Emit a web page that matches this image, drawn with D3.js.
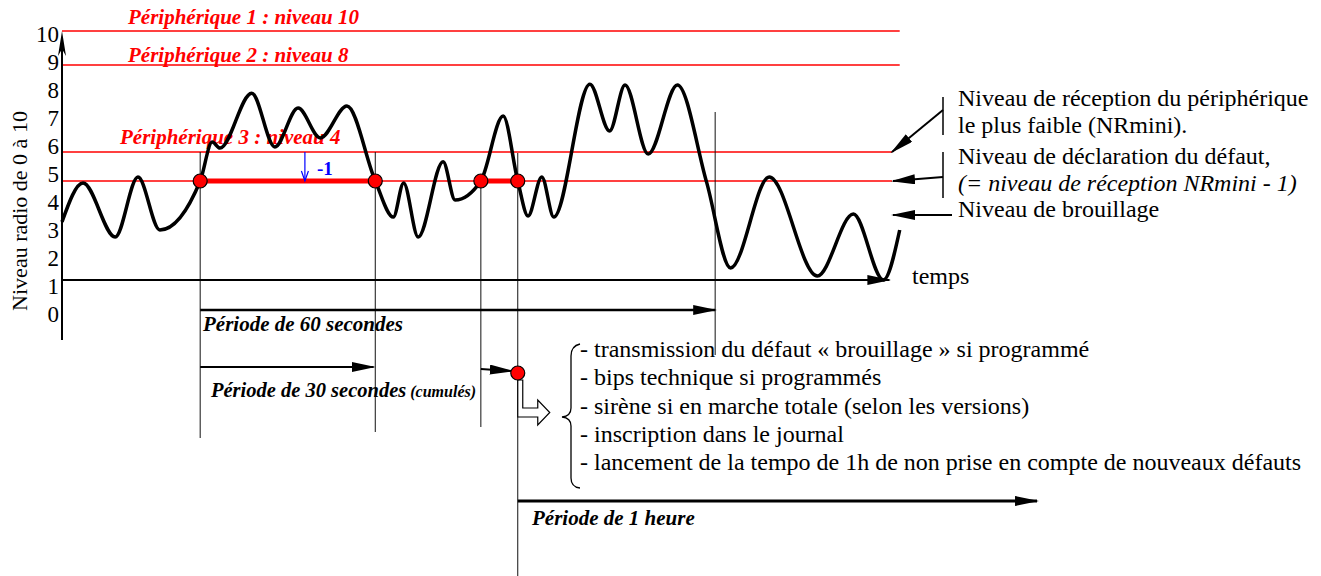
<!DOCTYPE html>
<html>
<head>
<meta charset="utf-8">
<script src="https://cdn.jsdelivr.net/npm/d3@7"></script>
<style>
  body { margin: 0; background: #fff; }
  text { font-family: "Liberation Serif", "Times New Roman", serif; }
</style>
</head>
<body>
<script>
const width = 1321;
const height = 576;

// levels on the vertical axis
const levels = [0, 1, 2, 3, 4, 5, 6, 7, 8, 9, 10];

// jamming signal (time in seconds, radio level)
const signalTime = [0, 2.45, 6.2, 8.85, 11.4, 16.1, 17.5, 18.4, 22.1, 24.8, 27.5, 30.1, 33.2, 36.5, 38.6,
  39.8, 41.5, 44.4, 45.8, 48.8, 51.4, 53.1, 54.3, 55.9, 57.3, 61.5, 63.8, 65.6, 68.3, 71.7, 75.1, 77.9,
  82.4, 88.0, 92.2, 95.7, 97.6];
const signalLevel = [3.54, 4.93, 3.0, 5.14, 3.25, 5.0, 6.33, 6.13, 8.03, 6.17, 7.5, 6.47, 7.57, 5.0, 3.71,
  4.93, 3.0, 5.66, 4.32, 5.0, 7.21, 5.0, 3.75, 5.14, 3.71, 8.34, 6.7, 8.31, 5.93, 8.31, 4.96, 1.67,
  5.14, 1.22, 3.82, 1.0, 3.25];

// reception levels of the peripherals + declaration level
const refLevels = [10, 9, 6, 5];
const refLabels = ["Périphérique 1 : niveau 10", "Périphérique 2 : niveau 8", "Périphérique 3 : niveau 4", ""];

// times where the signal crosses the declaration level
const crossTimes = [16.1, 36.5, 48.8, 53.1];

// counted periods
const periodLabels = ["Période de 60 secondes", "Période de 30 secondes", "Période de 1 heure"];
const periodStart = [16.1, 16.1, 53.1];
const periodEnd = [76.1, 36.3, 113.6];

const noteLines = [
  "Niveau de réception du périphérique",
  "le plus faible (NRmini).",
  "Niveau de déclaration du défaut,",
  "(= niveau de réception NRmini - 1)",
  "Niveau de brouillage"
];

const actions = [
  "- transmission du défaut « brouillage » si programmé",
  "- bips technique si programmés",
  "- sirène si en marche totale (selon les versions)",
  "- inscription dans le journal",
  "- lancement de la tempo de 1h de non prise en compte de nouveaux défauts"
];

const svg = d3.select("body").append("svg")
  .attr("width", width)
  .attr("height", height)
  .attr("font-family", "Liberation Serif, Times New Roman, serif");

svg.append("rect").attr("width", width).attr("height", height).attr("fill", "#fff");

const x = d3.scaleLinear().domain([0, 100]).range([62, 920.3]);
// the drawing is hand made, the level lines are not evenly spaced
const y = d3.scaleLinear().domain(levels)
  .range([318, 280, 262, 237, 209, 181, 152, 122, 94, 65, 31]);
// graduation labels are evenly spaced
const yTicks = d3.scaleLinear().domain([0, 10]).range([314, 34]);

const defs = svg.append("defs");
defs.append("marker")
  .attr("id", "arrow")
  .attr("viewBox", "0 0 24 10")
  .attr("refX", 22)
  .attr("refY", 5)
  .attr("markerWidth", 24)
  .attr("markerHeight", 10)
  .attr("markerUnits", "userSpaceOnUse")
  .attr("orient", "auto")
  .append("path")
  .attr("d", "M0,0 L24,5 L0,10 Z")
  .attr("fill", "#000");

// red reference lines
svg.selectAll(".ref")
  .data(refLevels)
  .join("line")
  .attr("class", "ref")
  .attr("x1", x(0))
  .attr("x2", d => (d >= 9 ? x(97.6) : x(96.7)))
  .attr("y1", d => y(d))
  .attr("y2", d => y(d))
  .attr("stroke", "#ff0000")
  .attr("stroke-width", 1.6);

const labelX = [128, 128, 120];
const labelDy = [-7, -3, -8];
svg.selectAll(".refLabel")
  .data(refLabels.slice(0, 3))
  .join("text")
  .attr("class", "refLabel")
  .attr("x", (d, i) => labelX[i])
  .attr("y", (d, i) => y(refLevels[i]) + labelDy[i])
  .attr("fill", "#ff0000")
  .attr("font-size", 21)
  .attr("font-weight", "bold")
  .attr("font-style", "italic")
  .text(d => d);

// thin vertical guides
const guideTimes = crossTimes.concat([periodEnd[0]]);
const guideTop = [152, 152, 183, 153, 112];
const guideBottom = [438, 432, 427, 576, 355];
svg.selectAll(".guide")
  .data(guideTimes)
  .join("line")
  .attr("class", "guide")
  .attr("x1", d => x(d))
  .attr("x2", d => x(d))
  .attr("y1", (d, i) => guideTop[i])
  .attr("y2", (d, i) => guideBottom[i])
  .attr("stroke", "#111")
  .attr("stroke-width", 1);

// axes
svg.append("line")
  .attr("x1", x(0)).attr("x2", x(0))
  .attr("y1", 340).attr("y2", 40)
  .attr("stroke", "#000").attr("stroke-width", 2);
svg.append("path")
  .attr("d", `M${x(0)},31 L${x(0) - 4},56 L${x(0)},49 L${x(0) + 4},56 Z`)
  .attr("fill", "#000");

svg.append("line")
  .attr("x1", x(0)).attr("x2", x(96.4))
  .attr("y1", y(1)).attr("y2", y(1))
  .attr("stroke", "#000").attr("stroke-width", 2)
  .attr("marker-end", "url(#arrow)");

const yAxis = svg.append("g")
  .attr("transform", `translate(${x(0)},0)`)
  .call(d3.axisLeft(yTicks).tickValues(levels).tickSize(0).tickPadding(3).tickFormat(d3.format("d")));
yAxis.select(".domain").remove();
yAxis.selectAll("text")
  .attr("font-size", 23)
  .attr("font-family", "Liberation Serif")
  .attr("fill", "#000");

svg.append("text")
  .attr("transform", "translate(27,211) rotate(-90)")
  .attr("text-anchor", "middle")
  .attr("font-size", 22)
  .text("Niveau radio de 0 à 10");

svg.append("text")
  .attr("x", 912).attr("y", 284)
  .attr("font-size", 24)
  .text("temps");

// signal curve
const line = d3.line()
  .x(i => x(signalTime[i]))
  .y(i => y(signalLevel[i]))
  .curve(d3.curveMonotoneX);

svg.append("path")
  .attr("d", line(d3.range(signalTime.length)))
  .attr("fill", "none")
  .attr("stroke", "#000")
  .attr("stroke-width", 3.5)
  .attr("stroke-linejoin", "round");

// time spent under the declaration level
svg.selectAll(".under")
  .data([[crossTimes[0], crossTimes[1]], [crossTimes[2], crossTimes[3]]])
  .join("line")
  .attr("class", "under")
  .attr("x1", d => x(d[0]))
  .attr("x2", d => x(d[1]))
  .attr("y1", y(5))
  .attr("y2", y(5))
  .attr("stroke", "#ff0000")
  .attr("stroke-width", 5);

// -1 arrow
const tMinus = 28.3;
svg.append("line")
  .attr("x1", x(tMinus)).attr("x2", x(tMinus))
  .attr("y1", y(6)).attr("y2", y(5))
  .attr("stroke", "#0000ff").attr("stroke-width", 1.2);
svg.append("path")
  .attr("d", `M${x(tMinus) - 3.5},${y(5) - 10} L${x(tMinus)},${y(5)} L${x(tMinus) + 3.5},${y(5) - 10}`)
  .attr("fill", "none").attr("stroke", "#0000ff").attr("stroke-width", 1.2);
svg.append("text")
  .attr("x", x(tMinus) + 12).attr("y", 175)
  .attr("font-family", "Liberation Sans, Arial, sans-serif")
  .attr("font-weight", "bold")
  .attr("font-size", 19)
  .attr("fill", "#0000ff")
  .text("-1");

// period arrows
const periodY = [310, 367, 501];
const periodW = [2.5, 2, 3];
svg.selectAll(".period")
  .data(periodLabels)
  .join("line")
  .attr("class", "period")
  .attr("x1", (d, i) => x(periodStart[i]))
  .attr("x2", (d, i) => x(periodEnd[i]))
  .attr("y1", (d, i) => periodY[i])
  .attr("y2", (d, i) => periodY[i])
  .attr("stroke", "#000")
  .attr("stroke-width", (d, i) => periodW[i])
  .attr("marker-end", "url(#arrow)");

// second part of the cumulated 30 s
svg.append("line")
  .attr("x1", x(crossTimes[2])).attr("x2", x(crossTimes[3]) - 6)
  .attr("y1", 369).attr("y2", 371)
  .attr("stroke", "#000").attr("stroke-width", 2)
  .attr("marker-end", "url(#arrow)");

const pLabel = svg.append("g")
  .attr("font-weight", "bold")
  .attr("font-style", "italic");
pLabel.append("text").attr("x", 203).attr("y", 331).attr("font-size", 21).text(periodLabels[0]);
const p30 = pLabel.append("text").attr("x", 211).attr("y", 397);
p30.append("tspan").attr("font-size", 20.5).text(periodLabels[1]);
p30.append("tspan").attr("font-size", 16).text(" (cumulés)");
pLabel.append("text").attr("x", 532).attr("y", 525).attr("font-size", 21).text(periodLabels[2]);

// alarm dot and hollow arrow
const xa = x(crossTimes[3]);
svg.append("path")
  .attr("d", `M${xa},380 L${xa},417 L${xa + 20},417 L${xa + 20},425 L${xa + 32},412.5 L${xa + 20},400 L${xa + 20},408 L${xa + 5},408 L${xa + 5},380 Z`)
  .attr("fill", "#fff").attr("stroke", "#000").attr("stroke-width", 1.2);

const dots = crossTimes.map(t => [x(t), y(5)]).concat([[xa, 373]]);
svg.selectAll(".dot")
  .data(dots)
  .join("circle")
  .attr("class", "dot")
  .attr("cx", d => d[0])
  .attr("cy", d => d[1])
  .attr("r", 7)
  .attr("fill", "#ff0000")
  .attr("stroke", "#000")
  .attr("stroke-width", 1.2);

// brace + list of actions
svg.append("path")
  .attr("d", "M580,344 Q571,346 571,356 L571,408 Q571,416 562,417 Q571,418 571,426 L571,478 Q571,487 580,488")
  .attr("fill", "none").attr("stroke", "#000").attr("stroke-width", 1.3);

svg.selectAll(".action")
  .data(actions)
  .join("text")
  .attr("class", "action")
  .attr("x", 580)
  .attr("y", (d, i) => 357 + i * 28.25)
  .attr("font-size", 24)
  .text(d => d);

// notes on the right
svg.append("line").attr("x1", 943).attr("x2", 943).attr("y1", 97).attr("y2", 135)
  .attr("stroke", "#000").attr("stroke-width", 1.5);
svg.append("line").attr("x1", 943).attr("x2", 943).attr("y1", 152).attr("y2", 198)
  .attr("stroke", "#000").attr("stroke-width", 1.5);
const noteArrows = [[943, 110, 892, y(6)], [943, 177, 893, y(5)], [952, 215, 893, 215]];
svg.selectAll(".noteArrow")
  .data(noteArrows)
  .join("line")
  .attr("class", "noteArrow")
  .attr("x1", d => d[0]).attr("y1", d => d[1])
  .attr("x2", d => d[2]).attr("y2", d => d[3])
  .attr("stroke", "#000").attr("stroke-width", 2)
  .attr("marker-end", "url(#arrow)");

const noteY = [106, 133, 164, 191, 217];
svg.selectAll(".note")
  .data(noteLines)
  .join("text")
  .attr("class", "note")
  .attr("x", 958)
  .attr("y", (d, i) => noteY[i])
  .attr("font-size", 24)
  .attr("font-style", (d, i) => (i === 3 ? "italic" : "normal"))
  .text(d => d);
</script>
</body>
</html>
